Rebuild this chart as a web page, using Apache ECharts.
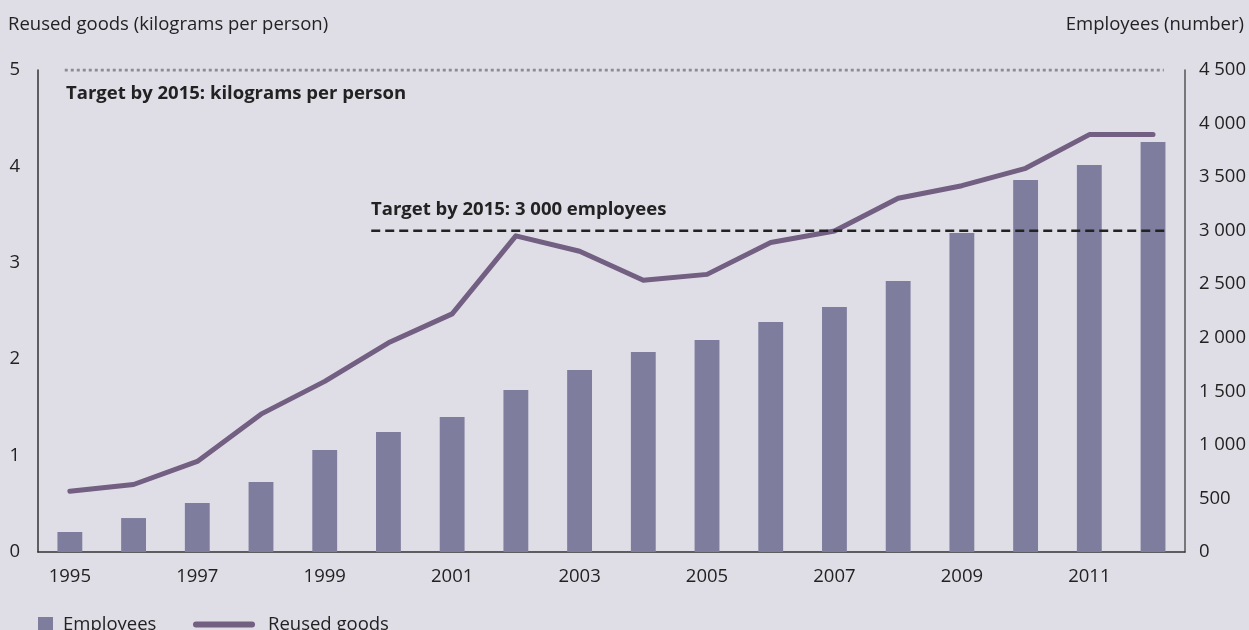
<!DOCTYPE html>
<html>
<head>
<meta charset="utf-8">
<script src="https://cdn.jsdelivr.net/npm/echarts@6/dist/echarts.min.js"></script>
<style>
html,body{margin:0;padding:0;background:#dfdee7;}
#c{width:1249px;height:630px;}
</style>
</head>
<body>
<div id="c"></div>
<script>
const years = ['1995','1996','1997','1998','1999','2000','2001','2002','2003','2004','2005','2006','2007','2008','2009','2010','2011','2012'];
const employees = [187,317,457,654,952,1120,1260,1512,1699,1867,1979,2147,2287,2530,2978,3473,3613,3828];
const reusedGoods = [0.63,0.70,0.94,1.43,1.77,2.17,2.47,3.28,3.12,2.82,2.88,3.21,3.33,3.67,3.80,3.98,4.33,4.33];
const targetKg = 5;
const targetEmployees = 3000;
const targetKgSpan = [-0.08, 17.17];
const targetEmpSpan = [4.73, 17.2];

const font = 'Open Sans';
const txt = '#222222';
const fs = 18.5;
const fmt = v => String(v).replace(/\B(?=(\d{3})+(?!\d))/g, ' ');

const chart = echarts.init(document.getElementById('c'), null, {renderer:'canvas'});
chart.setOption({
  backgroundColor:'#dfdee7',
  animation:false,
  textStyle:{fontFamily:font},
  grid:{left:38,right:62,top:70,bottom:78,containLabel:false},
  xAxis:[{
    type:'category', data:years, boundaryGap:true,
    axisLine:{lineStyle:{color:'#333',width:1.5}},
    axisTick:{show:false},
    axisLabel:{interval:1,color:txt,fontSize:fs,fontFamily:font,margin:15}
  },{
    type:'value', min:-0.5, max:17.5, show:false
  }],
  yAxis:[{
    type:'value', min:0, max:5, interval:1,
    splitLine:{show:false},
    axisLine:{show:true,onZero:false,lineStyle:{color:'#333',width:1.5}},
    axisTick:{show:false},
    axisLabel:{color:txt,fontSize:fs,fontFamily:font,margin:18,padding:[6,0,0,0]}
  },{
    type:'value', min:0, max:4500, interval:500, position:'right',
    splitLine:{show:false},
    axisLine:{show:true,onZero:false,lineStyle:{color:'#555',width:1.5}},
    axisTick:{show:false},
    axisLabel:{color:txt,fontSize:fs,fontFamily:font,margin:14,padding:[6,0,0,0],formatter:fmt}
  }],
  legend:[{
    data:['Employees'], left:33, top:610, itemWidth:15, itemHeight:15, icon:'rect',
    textStyle:{color:txt,fontSize:fs,fontFamily:font,padding:[0,0,0,5]}, itemGap:10
  },{
    data:[{name:'Reused goods',icon:'path://M3,0 L59,0 A3,3 0 0 1 59,6 L3,6 A3,3 0 0 1 3,0 Z'}],
    left:188, top:610, itemWidth:62, itemHeight:6,
    textStyle:{color:txt,fontSize:fs,fontFamily:font,padding:[0,0,0,8]}
  }],
  graphic:[
    {type:'text',left:8,top:15,style:{text:'Reused goods (kilograms per person)',fill:txt,font:fs+'px "Open Sans"'}},
    {type:'text',right:5,top:15,style:{text:'Employees (number)',fill:txt,font:fs+'px "Open Sans"'}},
    {type:'text',left:66,top:84,style:{text:'Target by 2015: kilograms per person',fill:txt,font:'bold '+fs+'px "Open Sans"'}},
    {type:'text',left:371,top:200,style:{text:'Target by 2015: 3 000 employees',fill:txt,font:'bold '+fs+'px "Open Sans"'}}
  ],
  series:[{
    name:'Employees', type:'bar', data:employees, xAxisIndex:0, yAxisIndex:1,
    barWidth:'39%', itemStyle:{color:'#7e7d9d'}
  },{
    name:'Reused goods', type:'line', data:reusedGoods, xAxisIndex:0, yAxisIndex:0,
    symbol:'none', itemStyle:{color:'#725f82'},
    lineStyle:{color:'#725f82',width:5,cap:'round',join:'round'}, z:5
  },{
    name:'targetKg', type:'line', xAxisIndex:1, yAxisIndex:0,
    data:[[targetKgSpan[0],targetKg],[targetKgSpan[1],targetKg]],
    symbol:'none', lineStyle:{color:'#8c8b92',width:3,type:[3,3]}, silent:true
  },{
    name:'targetEmp', type:'line', xAxisIndex:1, yAxisIndex:1,
    data:[[targetEmpSpan[0],targetEmployees],[targetEmpSpan[1],targetEmployees]],
    symbol:'none', lineStyle:{color:'#222',width:2.5,type:[9,5]}, z:6, silent:true
  }]
});
</script>
</body>
</html>
